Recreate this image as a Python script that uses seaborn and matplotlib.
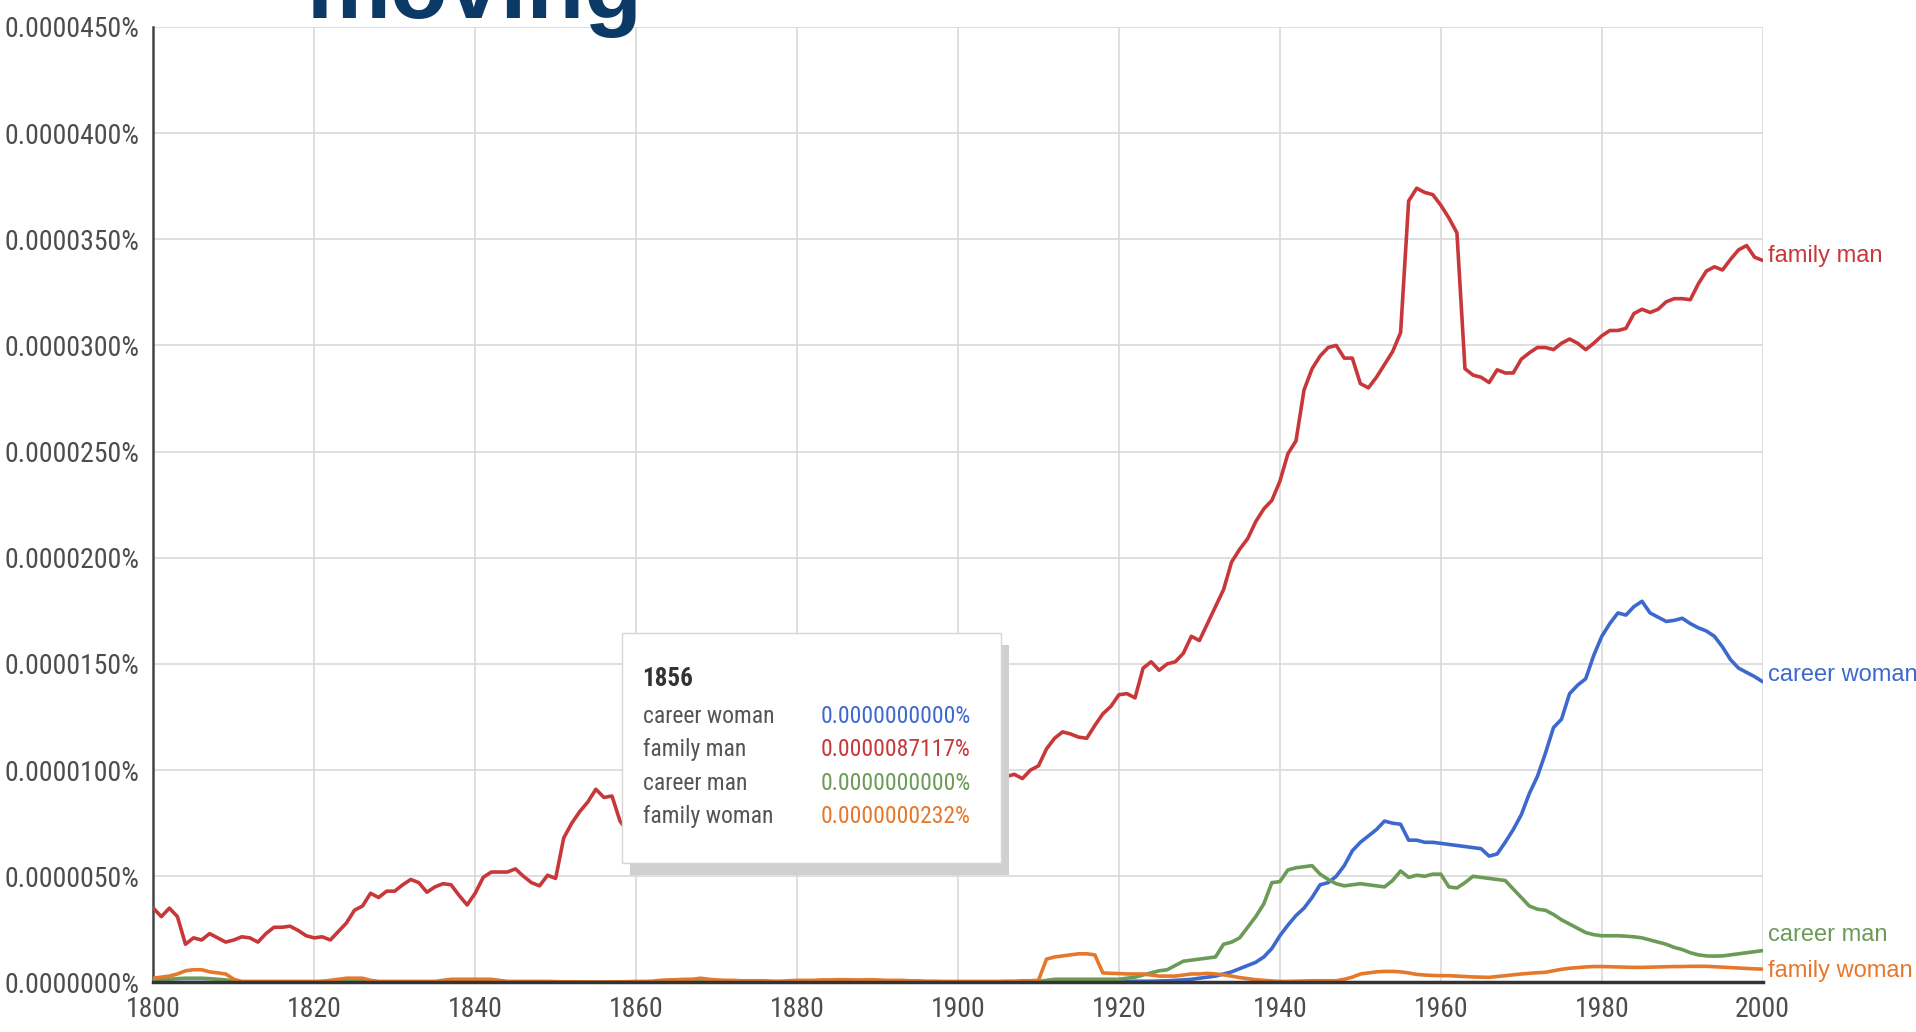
import numpy as np
import pandas as pd
import matplotlib
matplotlib.use("Agg")
import matplotlib.pyplot as plt
import matplotlib.transforms as mtransforms
from matplotlib import font_manager
from matplotlib.patches import Rectangle
import seaborn as sns

# values in units of 1e-7 %  (450 -> 0.0000450%)
years = list(range(1800, 2001))

career_woman = [
    0, 0, 0, 0, 0, 0, 0, 0, 0, 0,
    0, 0, 0, 0, 0, 0, 0, 0, 0, 0,
    0, 0, 0, 0, 0, 0, 0, 0, 0, 0,
    0, 0, 0, 0, 0, 0, 0, 0, 0, 0,
    0, 0, 0, 0, 0, 0, 0, 0, 0, 0,
    0, 0, 0, 0, 0, 0, 0, 0, 0, 0,
    0, 0, 0, 0, 0, 0, 0, 0, 0, 0,
    0, 0, 0, 0, 0, 0, 0, 0, 0, 0,
    0, 0, 0.3, 0.3, 0.4, 0.4, 0.3, 0.3, 0, 0,
    0, 0, 0, 0, 0, 0, 0, 0, 0, 0,
    0, 0, 0, 0, 0, 0, 0, 0, 0, 0,
    0, 0.3, 0.4, 0.4, 0.4, 0.3, 0.3, 0.4, 0.5, 0.5,
    0.5, 0.5, 0.6, 0.6, 0.6, 0.7, 0.8, 1, 1.2, 1.5,
    2, 2.5, 3, 4, 5, 6.5, 8, 9.5, 12, 16,
    22, 27, 31.5, 35, 40, 46, 47, 50, 55, 62,
    66, 69, 72, 76, 75, 74.5, 67, 67, 66, 66,
    65.5, 65, 64.5, 64, 63.5, 63, 59.5, 60.5, 66, 72,
    79, 89, 97, 108, 120, 124, 136, 140, 143, 154,
    163, 169, 174, 173, 177, 179.5, 174, 172, 170, 170.5,
    171.5, 169, 167, 165.5, 163, 158, 152, 148, 146, 144,
    141.6,
]

family_man = [
    35, 31, 35, 31, 18, 21, 20, 23, 21, 19,
    20, 21.5, 21, 19, 23, 26, 26, 26.5, 24.5, 22,
    21, 21.5, 20, 24, 28, 34, 36, 42, 40, 43,
    43, 46, 48.5, 47, 42.5, 45, 46.5, 46, 41, 36.5,
    42, 49.5, 52, 52, 52, 53.5, 50, 47, 45.5, 50.5,
    49, 68, 75, 80.5, 85, 91, 87.117, 87.8, 76, 71,
    68, 67, 66, 66, 67, 68, 69, 70, 71, 72,
    72, 73, 73, 74, 75, 76, 76, 77, 78, 79,
    79, 80, 81, 82, 82, 83, 84, 85, 85, 86,
    87, 88, 88, 89, 89, 90, 90, 91, 91, 92,
    92, 92, 93, 94, 95, 96, 97, 98, 96, 100,
    102, 110, 115, 118, 117, 115.5, 115, 121, 126.5, 130,
    135.5, 136, 134, 148, 151, 147, 150, 151, 155, 163,
    161, 169, 177, 185, 198, 204, 209, 217, 223, 227,
    236, 249, 255, 279, 289, 295, 299, 300, 294, 294,
    282, 280, 285, 291, 297, 306, 368, 374, 372, 371,
    366, 360, 353, 289, 286, 285, 282.5, 288.5, 287, 287,
    293.5, 296.5, 299, 299, 298, 301, 303, 301, 298, 301,
    304.5, 307, 307, 308, 315, 317, 315.5, 317, 320.5, 322,
    322, 321.5, 329, 335, 337, 335.5, 340.5, 345, 347, 341.5,
    340,
]

career_man = [
    1.5, 1.5, 1.5, 1.8, 2, 2, 2, 1.8, 1.5, 1.2,
    0.6, 0.3, 0.3, 0.3, 0.3, 0.3, 0.3, 0.3, 0.3, 0.3,
    0.3, 0.5, 0.8, 0.8, 0.8, 0.8, 0.5, 0.3, 0.3, 0.3,
    0.3, 0.3, 0.3, 0.3, 0.3, 0.3, 0.3, 0.3, 0.3, 0.3,
    0.3, 0.5, 0.8, 0.5, 0.3, 0.3, 0.3, 0.3, 0.3, 0.3,
    0.2, 0.1, 0, 0, 0, 0, 0, 0, 0, 0,
    0.2, 0.2, 0.2, 0.3, 0.3, 0.3, 0.3, 0.3, 0.3, 0.2,
    0.2, 0.2, 0.2, 0.2, 0.2, 0.2, 0.2, 0.2, 0.2, 0.2,
    0.3, 0.3, 0.3, 0.3, 0.3, 0.3, 0.3, 0.3, 0.3, 0.3,
    0.2, 0.2, 0.2, 0.2, 0.2, 0.2, 0.2, 0.2, 0.2, 0.2,
    0.2, 0.2, 0.2, 0.2, 0.2, 0.2, 0.2, 0.2, 0.3, 0.3,
    0.5, 1, 1.5, 1.5, 1.5, 1.5, 1.5, 1.5, 1.5, 1.5,
    1.5, 2, 2.5, 3.5, 4.5, 5.5, 6, 8, 10, 10.5,
    11, 11.5, 12, 18, 19, 21, 26, 31, 37, 47,
    47.5, 53, 54, 54.5, 55, 51, 48.5, 46.5, 45.5, 46,
    46.5, 46, 45.5, 45, 48, 52.5, 49.5, 50.5, 50, 51,
    51, 45, 44.5, 47, 50, 49.5, 49, 48.5, 48, 44,
    40, 36, 34.5, 34, 32, 29.5, 27.5, 25.5, 23.5, 22.5,
    22, 22, 22, 21.8, 21.5, 21, 20, 19, 18, 16.5,
    15.5, 14, 13, 12.5, 12.4, 12.5, 13, 13.5, 14, 14.5,
    15,
]

family_woman = [
    2, 2.5, 3, 4, 5.5, 6, 6, 5, 4.5, 4,
    1.5, 0.5, 0.5, 0.5, 0.5, 0.5, 0.5, 0.5, 0.5, 0.5,
    0.5, 0.5, 1, 1.5, 2, 2, 2, 1, 0.5, 0.5,
    0.5, 0.5, 0.5, 0.5, 0.5, 0.5, 1, 1.5, 1.5, 1.5,
    1.5, 1.5, 1.5, 1, 0.5, 0.5, 0.5, 0.5, 0.5, 0.5,
    0.4, 0.3, 0.3, 0.3, 0.2, 0.2, 0.232, 0.3, 0.3, 0.4,
    0.5, 0.5, 0.6, 1, 1.2, 1.3, 1.5, 1.5, 2, 1.5,
    1.2, 1, 1, 0.8, 0.8, 0.8, 0.8, 0.6, 0.6, 0.8,
    1, 1, 1, 1.2, 1.2, 1.3, 1.3, 1.2, 1.2, 1.3,
    1.2, 1, 1, 1, 0.8, 0.8, 0.6, 0.6, 0.5, 0.5,
    0.5, 0.5, 0.5, 0.5, 0.5, 0.5, 0.6, 0.6, 0.8, 0.8,
    1, 11, 12, 12.5, 13, 13.5, 13.5, 13, 4.5, 4.3,
    4.2, 4, 4, 4, 3.5, 3, 3, 3, 3.5, 4,
    4, 4.3, 4, 3.6, 3, 2.3, 1.8, 1.3, 1, 0.7,
    0.5, 0.5, 0.6, 0.7, 0.8, 0.8, 0.8, 0.8, 1.5, 2.5,
    4, 4.5, 5, 5.2, 5.2, 5, 4.5, 3.8, 3.5, 3.3,
    3.2, 3.2, 3, 2.8, 2.6, 2.5, 2.4, 2.8, 3.2, 3.6,
    4, 4.3, 4.6, 4.8, 5.5, 6.2, 6.7, 7, 7.3, 7.5,
    7.5, 7.4, 7.3, 7.2, 7.1, 7.1, 7.2, 7.3, 7.4, 7.5,
    7.5, 7.6, 7.6, 7.6, 7.4, 7.2, 7, 6.8, 6.6, 6.4,
    6.3,
]

phrases = ["career woman", "family man", "career man", "family woman"]
colors = {
    "career woman": "#3d69cf",
    "family man": "#c8383a",
    "career man": "#6c9a57",
    "family woman": "#e5782a",
}
hover_year = 1856
y_ticks = list(range(0, 451, 50))
x_ticks = list(range(1800, 2001, 20))
# where the end-of-line labels sit (nudged apart like the original)
label_y = {"family man": 342, "career woman": 145, "career man": 22.5, "family woman": 5.2}

df = pd.DataFrame({
    "year": years,
    "career woman": career_woman,
    "family man": family_man,
    "career man": career_man,
    "family woman": family_woman,
})
long_df = df.melt(id_vars="year", var_name="phrase", value_name="share")

sns.set_style("white")


# the original uses a narrow face; use one if the box has it, otherwise shrink
def find_narrow():
    names = {f.name for f in font_manager.fontManager.ttflist}
    for cand in ["Liberation Sans Narrow", "Roboto Condensed", "Open Sans Condensed"]:
        if cand in names:
            return {"family": cand}, 1.0
    for f in font_manager.fontManager.ttflist:
        if f.name == "DejaVu Sans" and "condensed" in str(f.stretch):
            return {"family": "DejaVu Sans", "stretch": "condensed"}, 0.85
    return {"family": "Liberation Sans"}, 0.8


narrow, shrink = find_narrow()
plt.rcParams["font.family"] = [narrow["family"], "Liberation Sans", "DejaVu Sans"]
if "stretch" in narrow:
    plt.rcParams["font.stretch"] = narrow["stretch"]

tick_fs = 20 * shrink
tip_fs = 17 * shrink

fig = plt.figure(figsize=(19.16, 10.32), dpi=100)
ax = fig.add_axes([0.080, 0.048, 0.840, 0.926])

sns.lineplot(
    data=long_df, x="year", y="share", hue="phrase", hue_order=phrases,
    palette=colors, linewidth=2.6, legend=False, ax=ax, zorder=3,
)

ax.set_xlim(1800, 2000)
ax.set_ylim(0, 450)
ax.set_xticks(x_ticks)
ax.set_yticks(y_ticks)
ax.set_yticklabels([f"{v * 1e-7:.7f}%" for v in y_ticks])
ax.set_xlabel("")
ax.set_ylabel("")
ax.grid(True, color="#d9d9d9", linewidth=1.2)
ax.set_axisbelow(True)

for side in ["top", "right"]:
    ax.spines[side].set_visible(False)
ax.spines["left"].set_color("#444444")
ax.spines["left"].set_linewidth(1.8)
ax.spines["bottom"].set_color("#333333")
ax.spines["bottom"].set_linewidth(2.5)
ax.spines["bottom"].set_zorder(4)
ax.tick_params(axis="both", labelsize=tick_fs, colors="#444444", labelcolor="#4d4d4d",
               length=5, width=2, direction="out", pad=5)

# line end labels
for p in phrases:
    ax.annotate(p, xy=(2000, label_y[p]), xytext=(4, 0), textcoords="offset points",
                va="center", ha="left", color=colors[p], fontsize=17,
                family="Liberation Sans", stretch="normal", annotation_clip=False)

# hover tooltip for 1856
bx, by, bw, bh = 0.291, 0.1255, 0.2356, 0.2407
shadow_tr = mtransforms.offset_copy(ax.transAxes, fig=fig, x=8, y=-12, units="dots")
ax.add_patch(Rectangle((bx, by), bw, bh, transform=shadow_tr, facecolor="#d0d0d0",
                       edgecolor="none", zorder=5, clip_on=False))
ax.add_patch(Rectangle((bx, by), bw, bh, transform=ax.transAxes, facecolor="white",
                       edgecolor="#d6d6d6", linewidth=1, zorder=6, clip_on=False))
ax.text(0.304, 0.3175, str(hover_year), transform=ax.transAxes, fontsize=tip_fs + 1,
        fontweight="bold", color="#333333", va="center", zorder=7)
row_y = [0.2778, 0.2433, 0.2087, 0.1741]
idx = years.index(hover_year)
for p, ry in zip(phrases, row_y):
    ax.text(0.304, ry, p, transform=ax.transAxes, fontsize=tip_fs, color="#555555",
            va="center", zorder=7)
    ax.text(0.4149, ry, f"{df[p][idx] * 1e-7:.10f}%", transform=ax.transAxes,
            fontsize=tip_fs, color=colors[p], va="center", zorder=7)

# slide title peeking in at the top
fig.text(0.160, 0.9826, "moving", fontsize=68, fontweight="bold", color="#0b3a66",
         family="Liberation Sans", stretch="normal", va="baseline", ha="left")

fig.savefig("out.png", dpi=100)
